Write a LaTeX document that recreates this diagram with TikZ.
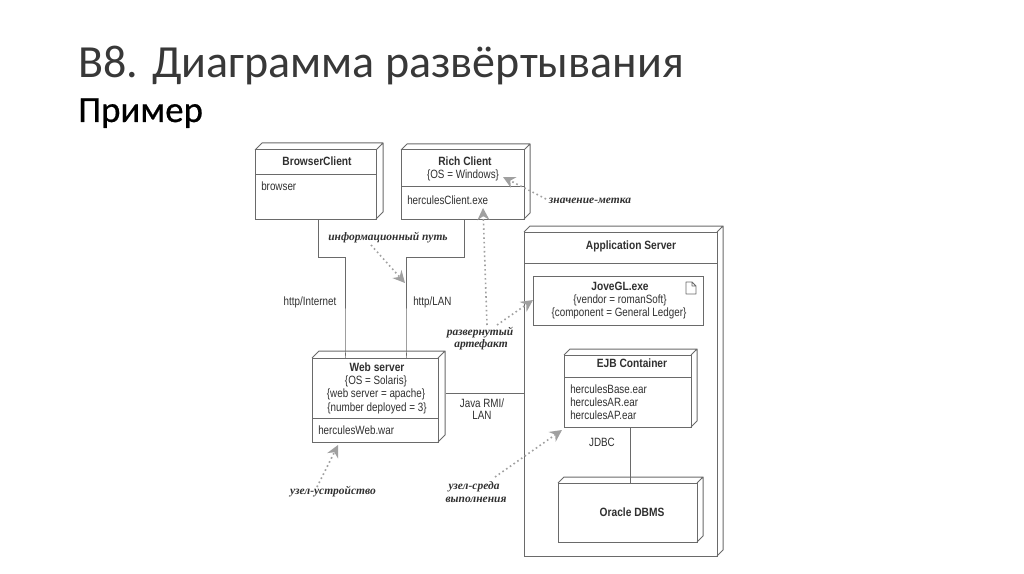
\documentclass[tikz,border=0pt]{standalone}
\usepackage{fontspec}
\usetikzlibrary{calc,arrows.meta}
\setmainfont{Carlito}
\newfontfamily\subf[FakeBold=0.6]{Carlito}
\newfontfamily\lab[FakeStretch=0.82]{Liberation Sans}
\newfontfamily\labb[FakeStretch=0.85]{Liberation Sans Bold}
\newfontfamily\hand{Liberation Serif}
\definecolor{ink}{HTML}{303030}
\definecolor{wire}{HTML}{6A6A6A}
\definecolor{dots}{HTML}{A0A0A0}
\definecolor{ttl}{HTML}{383838}
\tikzset{
  box/.style={draw=wire,line width=0.75pt,fill=white,rectangle,inner sep=0pt,outer sep=0pt},
  wirel/.style={draw=wire,line width=0.75pt},
  txt/.style={inner sep=0pt,text=ink,font=\lab\fontsize{9}{10}\selectfont},
  ltxt/.style={txt,anchor=west},
  btxt/.style={txt,font=\labb\fontsize{9}{10}\selectfont},
  note/.style={inner sep=0pt,text=ink,font=\hand\itshape\bfseries\fontsize{8.6}{10}\selectfont},
  tag/.style={draw=dots,line width=1.2pt,dash pattern=on 1.2pt off 2.2pt,
    -{Stealth[length=9pt,width=9pt,color=dots,fill=dots,sep=0pt]}},
}
% \tdbox{name}{x1}{y1}{x2}{y2}{depth}
\newcommand{\tdbox}[6]{%
  \node[box,anchor=north west,minimum width={(#4-#2)*0.75pt},minimum height={(#5-#3)*0.75pt}] (#1) at (#2,#3) {};
  \draw[wirel,line join=round] (#1.north west) -- ++(#6,-#6) -- ($(#1.north east)+(#6,-#6)$) -- ($(#1.south east)+(#6,-#6)$) -- (#1.south east) (#1.north east) -- ++(#6,-#6);
}
\begin{document}
\begin{tikzpicture}[x=0.75pt,y=-0.75pt]
\useasboundingbox[fill=white] (0,0) rectangle (1024,574);
% title
\node[anchor=base west,inner sep=0pt,text=ttl,font=\fontsize{34.5}{36}\selectfont] (title) at (78,78) {B8. Диаграмма развёртывания};
\node[anchor=base west,inner sep=0pt,text=black,font=\subf\fontsize{27.6}{30}\selectfont] (sub) at (78,122) {Пример};
% routing points
\coordinate (inta) at (318,257);
\coordinate (intb) at (345,257);
\coordinate (lana) at (464,257);
\coordinate (lanb) at (406,257);
% devices
\tdbox{bc}{255}{150}{376}{219}{7}
\tdbox{rc}{401}{150}{524}{219}{6}
\tdbox{ws}{312}{358}{438}{442}{7}
\tdbox{as}{524}{232}{717}{556}{6}
\node[box,anchor=north west,minimum width={170*0.75pt},minimum height={49*0.75pt}] (jove) at (533,276) {};
\tdbox{ejb}{564}{355}{691}{427}{6}
\tdbox{ora}{558}{483}{697}{542}{6}
% dividers
\draw[wirel] (bc.west |- 0,175) -- (bc.east |- 0,175);
\draw[wirel] (rc.west |- 0,187) -- (rc.east |- 0,187);
\draw[wirel] (ws.west |- 0,418) -- (ws.east |- 0,418);
\draw[wirel] (as.west |- 0,263) -- (as.east |- 0,263);
\draw[wirel] (ejb.west |- 0,377) -- (ejb.east |- 0,377);
% connectors
\draw[wirel] (bc.south -| inta) -- (inta) -- (intb) -- (intb |- ws.north) -- ++(0,-5);
\draw[wirel] (rc.south -| lana) -- (lana) -- (lanb) -- (lanb |- ws.north) -- ++(0,-5);
\coordinate (rmi) at (446,393);
\coordinate (jd) at (630,450);
\draw[wirel] (rmi) -- (rmi -| as.west);
\draw[wirel] (ejb.south -| jd) -- (ora.north -| jd);
% document icon
\draw[wire,line width=0.6pt,line join=round] (686,282) -- (692,282) -- (696,286) -- (696,294) -- (686,294) -- cycle (692,282) -- (692,286) -- (696,286);
% node texts
\node[btxt] (t1) at (317,161) {BrowserClient};
\node[ltxt] (t2) at (261,186) {browser};
\node[btxt] (t3) at (465,161) {Rich Client};
\node[txt] (t4) at (463,175.5) {\{OS = Windows\}};
\node[ltxt] (t5) at (407,200) {herculesClient.exe};
\node[txt] (t6) at (310,302) {http/Internet};
\node[ltxt] (t7) at (413,302) {http/LAN};
\node[btxt] (t8) at (377,367) {Web server};
\node[txt] (t9) at (376,381) {\{OS = Solaris\}};
\node[txt] (t10) at (376,394.5) {\{web server = apache\}};
\node[txt] (t11) at (377,408) {\{number deployed = 3\}};
\node[ltxt] (t12) at (318,430) {herculesWeb.war};
\node[txt] (t13) at (482,403) {Java RMI/};
\node[txt] (t14) at (482,415) {LAN};
\node[btxt] (t15) at (631,246) {Application Server};
\node[btxt] (t16) at (620,286) {JoveGL.exe};
\node[txt] (t17) at (620,300) {\{vendor = romanSoft\}};
\node[txt] (t18) at (619,313) {\{component = General Ledger\}};
\node[btxt] (t19) at (632,363) {EJB Container};
\node[ltxt] (t20) at (570,389) {herculesBase.ear};
\node[ltxt] (t21) at (570,402) {herculesAR.ear};
\node[ltxt] (t22) at (570,415) {herculesAP.ear};
\node[txt] (t23) at (602,442) {JDBC};
\node[btxt] (t24) at (632,512) {Oracle DBMS};
% annotations
\node[note] (n1) at (590,201) {значение-метка};
\node[note] (n2) at (388,238) {информационный путь};
\node[note] (n3) at (480,333) {развернутый};
\node[note] (n4) at (481,345) {артефакт};
\node[note] (n5) at (333,492) {узел-устройство};
\node[note] (n6) at (474,487) {узел-среда};
\node[note] (n7) at (476,500) {выполнения};
\coordinate (s1) at (546,199);
\coordinate (e1) at (503,177);
\coordinate (s2) at (371,245);
\coordinate (e2) at (405,283);
\coordinate (s3) at (487,325);
\coordinate (e3) at (483,208);
\coordinate (s4) at (497,325);
\coordinate (e4) at (533,300);
\coordinate (s5) at (317,487);
\coordinate (e5) at (338,445);
\coordinate (s6) at (495,477);
\coordinate (e6) at (562,430);
\draw[tag] (s1) -- (e1);
\draw[tag] (s2) -- (e2);
\draw[tag] (s3) -- (e3);
\draw[tag] (s4) -- (e4);
\draw[tag] (s5) -- (e5);
\draw[tag] (s6) -- (e6);
\end{tikzpicture}
\end{document}
